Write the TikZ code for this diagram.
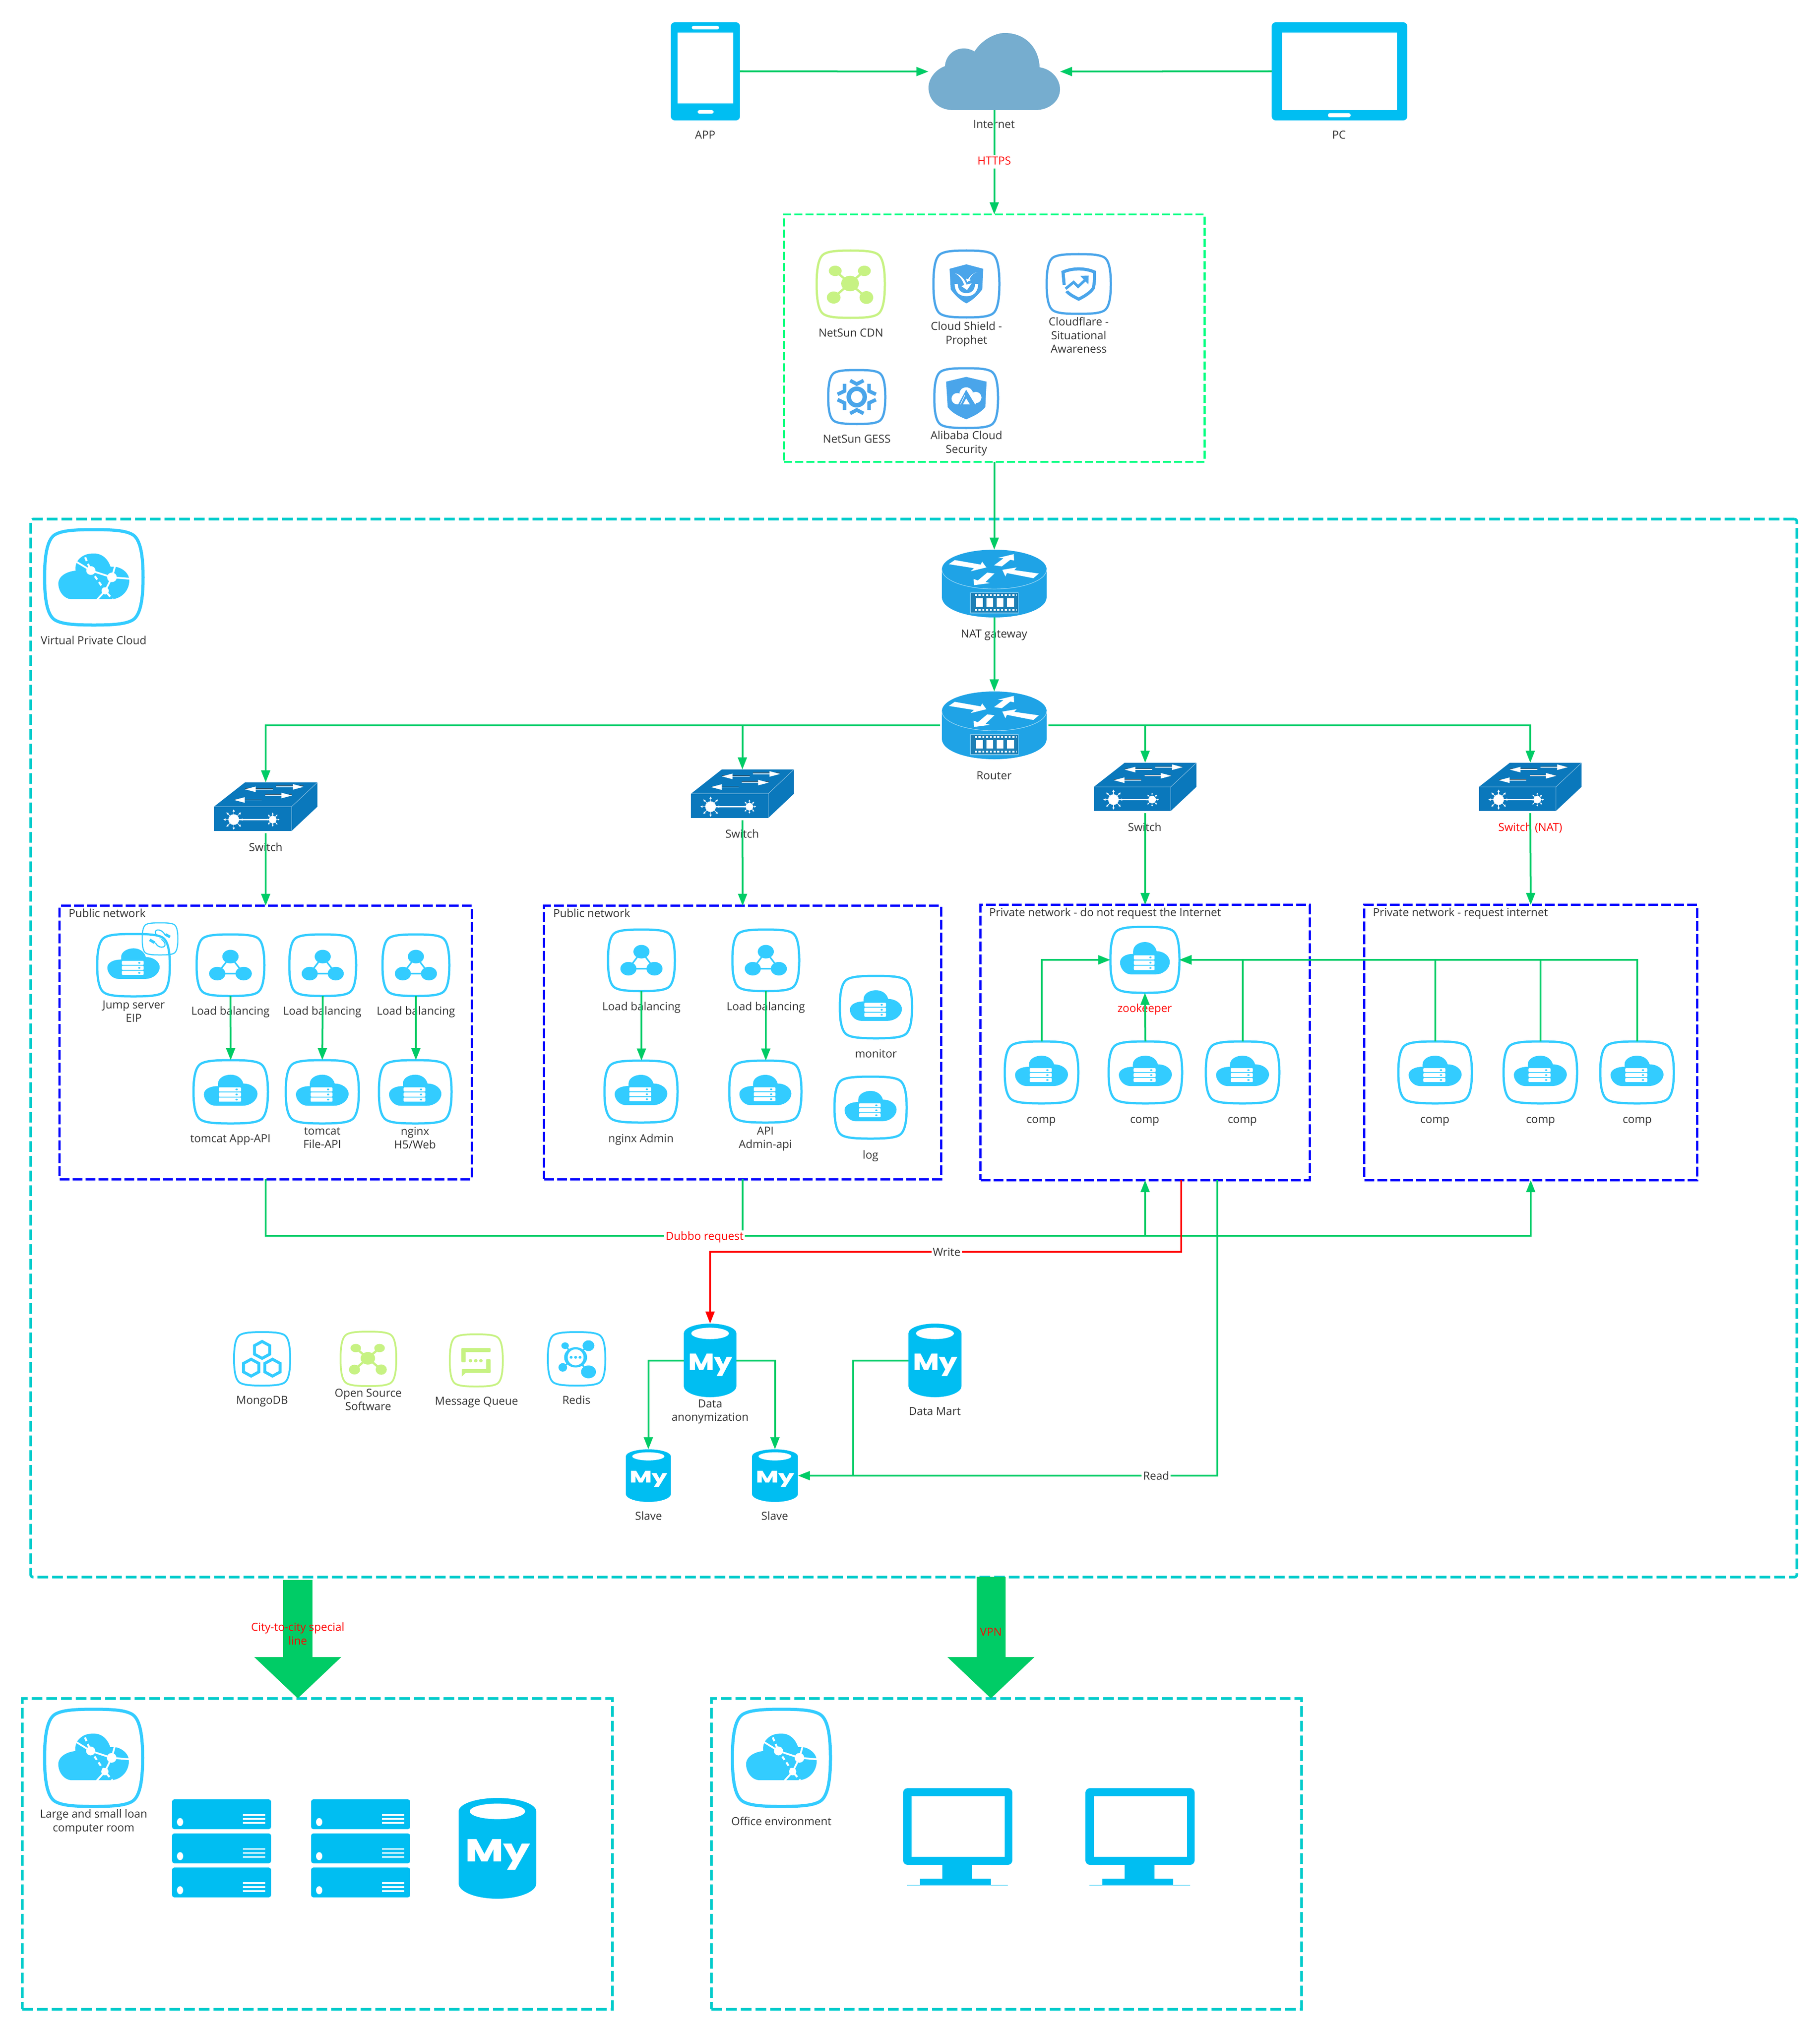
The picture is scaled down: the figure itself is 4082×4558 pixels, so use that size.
\documentclass[tikz,border=0pt]{standalone}
\usepackage{fontspec}
\setmainfont{Open Sans}
\newfontfamily\myfont[BoldFeatures={FakeBold=1.2}]{Poppins}
\usetikzlibrary{arrows.meta}
\definecolor{iconblue}{HTML}{33CCFF}
\definecolor{devblue}{HTML}{00BEF2}
\definecolor{arrowgreen}{HTML}{00CC66}
\definecolor{tealdash}{HTML}{00CCCC}
\definecolor{secgreen}{HTML}{00FF80}
\definecolor{leafgreen}{HTML}{C7F283}
\definecolor{shieldblue}{HTML}{4AA5EA}
\definecolor{routerblue}{HTML}{1FA3E6}
\definecolor{panelblue}{HTML}{1D7FB5}
\definecolor{switchblue}{HTML}{0A78BC}
\definecolor{skycloud}{HTML}{76ADCF}
\definecolor{labelgray}{HTML}{333333}
\tikzset{
  anchorbox/.style={rectangle,inner sep=0pt,outer sep=0pt},
  lbl/.style={inner sep=0pt,outer sep=0pt,align=center,text=labelgray,yshift=-0.03cm,font=\fontsize{7.1}{8.6}\selectfont,execute at begin node=\strut,execute at end node=\strut},
  redlbl/.style={lbl,text=red},
  edgelbl/.style={lbl,fill=white,inner xsep=0.03cm,inner ysep=0pt},
  conn/.style={draw=arrowgreen,line width=0.04cm,-{Triangle[length=0.27cm,width=0.2cm]}},
  plainconn/.style={draw=arrowgreen,line width=0.04cm},
  redconn/.style={draw=red,line width=0.04cm,-{Triangle[length=0.27cm,width=0.2cm]}},
  bigarrow/.style={draw=arrowgreen,line width=0.65cm,-{Triangle[length=0.93cm,width=1.9cm]}},
  tealbox/.style={anchorbox,draw=tealdash,line width=0.06cm,dash pattern=on 0.24cm off 0.09cm},
  bluebox/.style={anchorbox,draw=blue,line width=0.05cm,dash pattern=on 0.22cm off 0.07cm},
  secbox/.style={anchorbox,draw=secgreen,line width=0.045cm,dash pattern=on 0.18cm off 0.07cm},
}
\newcommand{\placebox}[5]{%
  \pgfmathsetmacro\cx{(#2+#4)/2}\pgfmathsetmacro\cy{(#3+#5)/2}%
  \pgfmathsetmacro\sx{(#4-#2)/100}\pgfmathsetmacro\sy{(#5-#3)/100}%
  \node[anchorbox,minimum width=\sx cm,minimum height=\sy cm] (#1) at (\cx,\cy) {};}
\newcommand{\region}[6]{%
  \pgfmathsetmacro\cx{(#3+#5)/2}\pgfmathsetmacro\cy{(#4+#6)/2}%
  \pgfmathsetmacro\sx{(#5-#3)/100}\pgfmathsetmacro\sy{(#6-#4)/100}%
  \node[#1,minimum width=\sx cm,minimum height=\sy cm] (#2) at (\cx,\cy) {};}
\def\iconlw{0.05cm}
\def\sqpath{(0,-50) .. controls (20,-50) and (32,-49) .. (39,-45) .. controls (46,-41) and (50,-28) .. (50,0) .. controls (50,28) and (46,41) .. (39,45) .. controls (32,49) and (20,50) .. (0,50) .. controls (-20,50) and (-32,49) .. (-39,45) .. controls (-46,41) and (-50,28) .. (-50,0) .. controls (-50,-28) and (-46,-41) .. (-39,-45) .. controls (-32,-49) and (-20,-50) .. (0,-50) -- cycle}
\newcommand{\icon}[7][iconblue]{%
  \placebox{#2}{#3}{#4}{#5}{#6}%
  \begin{scope}[shift={(\cx,\cy)},xscale=\sx,yscale=\sy]
    \colorlet{ic}{#1}%
    \draw[draw=ic,line width=\iconlw] \sqpath;
    #7
  \end{scope}}
\def\cloudpath{(-17,-13) .. controls (-17,-22) and (-8,-27) .. (0,-27) .. controls (8,-27) and (15,-22) .. (17,-13) .. controls (28,-13) and (36,-5) .. (36,3) .. controls (36,14) and (26,22) .. (16,22) -- (-20,22) .. controls (-30,22) and (-36,12) .. (-36,4) .. controls (-36,-4) and (-28,-9) .. (-17,-9) -- cycle}
\newcommand{\gsrv}{%
  \fill[ic] \cloudpath;
  \foreach \ya/\yb in {-6.9/-0.5,1/7.6,9/15.6}{
    \fill[white,rounded corners=0.02cm] (-16,\ya) rectangle (14,\yb);
    \fill[ic] (8,{(\ya+\yb)/2}) ellipse (1.6 and 1.4);
  }}
\newcommand{\glb}{%
  \draw[ic,line width=0.035cm] (0,-14) -- (-19.5,13.7) -- (19.5,13.7) -- cycle;
  \fill[ic] (0,-14) ellipse (12 and 11);
  \fill[ic] (-19.5,13.7) ellipse (12 and 11);
  \fill[ic] (19.5,13.7) ellipse (12 and 11);}
\newcommand{\gcross}{%
  \draw[ic,line width=0.05cm] (-22.7,-19.8) -- (23,19.8) (20,-19.8) -- (-25,19.8);
  \fill[ic] (-1,-1) ellipse (13 and 11.5);
  \fill[ic] (-22.7,-19.8) ellipse (9.5 and 7.7);
  \fill[ic] (20,-19.8) ellipse (9.5 and 7.7);
  \fill[ic] (-25,19.8) ellipse (10 and 9);
  \fill[ic] (23,19.8) ellipse (10 and 9.5);}
\newcommand{\gcshield}{%
  \fill[ic] (0,-29.4) -- (25.5,-22.7) -- (24,8) .. controls (18,16) and (10,24) .. (0,29) .. controls (-10,24) and (-18,16) .. (-23.8,8) -- (-25.5,-22.7) -- cycle;
  \draw[white,line width=0.07cm] (-15.5,0) .. controls (-15,13) and (-7,16) .. (0,16) .. controls (7,16) and (15,13) .. (15.5,0);
  \fill[white] (-17,-16) .. controls (-8,-14) and (-2,-6) .. (1,3) -- (-3,3) .. controls (-5,-5) and (-10,-12) .. (-17,-16) -- cycle;
  \fill[white] (-8,3) -- (8,-1) -- (1,9) -- cycle;
  \fill[white] (17,-18) .. controls (10,-16) and (6,-11) .. (4,-5) -- (2,-6) .. controls (5,-12) and (10,-16) .. (17,-18) -- cycle;
  \fill[white] (-0.5,-8) -- (7,-6) -- (1,-3) -- cycle;}
\newcommand{\gflare}{%
  \draw[ic,line width=0.07cm,line join=miter] (-22.7,1.5) -- (-24.5,-20) .. controls (-10,-27) and (10,-27) .. (24.5,-20) .. controls (24.5,-10) and (25,-4) .. (22.7,7) .. controls (18,15) and (8,21) .. (0,25.4) .. controls (-8,21) and (-14,18) .. (-19,12);
  \draw[white,line width=0.13cm] (-21,8) -- (-8,-3) -- (-1,4.4) -- (11.4,-8);
  \draw[ic,line width=0.06cm,line join=miter] (-20.5,8) -- (-8,-3) -- (-1,4.4) -- (11.4,-8);
  \fill[ic] (2.3,-13.6) -- (15.5,-14) -- (15,0.7) -- cycle;}
\newcommand{\ggear}{%
  \draw[ic,line width=0.1cm] (0,0) ellipse (14 and 15.3);
  \draw[ic,line width=0.08cm,line join=miter] (-11.5,-30.5) -- (0,-24) -- (12,-30.5);
  \draw[ic,line width=0.08cm,line join=miter] (-11.5,30.5) -- (0,24) -- (12,30.5);
  \foreach \hs/\vs in {1/1,-1/1,1/-1,-1/-1}{
    \draw[ic,line width=0.08cm,line join=miter] (21.5*\hs,-24.4*\vs) -- (21.5*\hs,-11*\vs) -- (33.6*\hs,-5*\vs);}}
\newcommand{\gali}{%
  \fill[ic] (0,-35.5) -- (32,-27.5) -- (30,15) .. controls (22,25) and (12,30) .. (0,35.5) .. controls (-12,30) and (-22,25) .. (-29,15) -- (-31.5,-27.5) -- cycle;
  \fill[white] (-14,1) ellipse (9 and 9.5);
  \fill[white] (0,-8) ellipse (10.5 and 10);
  \fill[white] (15,-1) ellipse (9 and 9.5);
  \fill[white] (-14,-2) rectangle (15,10.5);
  \fill[ic] (0,-14) -- (14,10.5) -- (-12.5,10.5) -- cycle;
  \fill[white] (-5,10.5) -- (0,0.5) -- (5.8,10.5) -- cycle;
  \draw[white,line width=0.012cm] (-2,-5) -- (-9,10.5);}
\newcommand{\gvpc}{%
  \fill[ic] (-18.5,-7) .. controls (-19,-12) and (-18,-15) .. (-16,-18) .. controls (-12,-23) and (-7,-25) .. (0,-25) .. controls (8,-25) and (14,-20) .. (17,-11) -- (22,-11) .. controls (29,-10) and (36,-4) .. (36,3) .. controls (36,15) and (27,23) .. (17,23) -- (-22,23) .. controls (-30,23) and (-36,15) .. (-36,6.5) .. controls (-36,-1) and (-28,-6) .. (-18.5,-7) -- cycle;
  \draw[white,line width=0.04cm] (-17.6,-16.2) -- (-3,-7.1) -- (18.4,0) -- (36.7,1.5);
  \draw[white,line width=0.04cm] (18.4,0) -- (21.5,-11.5);
  \draw[white,line width=0.04cm] (18.4,0) -- (11.5,14.2) -- (3.2,23.5);
  \draw[white,line width=0.045cm,dash pattern=on 0.09cm off 0.07cm] (-8.8,-21) -- (-3,-7.1) -- (11.5,14.2) -- (19,23);
  \fill[white] (-3,-7.1) ellipse (4.7 and 4.6);
  \fill[white] (18.4,0) ellipse (4.9 and 5);
  \fill[white] (11.5,14.2) ellipse (3.7 and 3.8);}
\newcommand{\gmongo}{%
  \foreach \hx/\hy in {0/-16.7,-19.5/16.5,18.5/16.5}{
    \draw[ic,line width=0.065cm,line join=miter,shift={(\hx,\hy)}] (0,-15.8) -- (13.6,-8) -- (13.6,8) -- (0,15.8) -- (-13.6,8) -- (-13.6,-8) -- cycle;}}
\newcommand{\gqueue}{%
  \fill[ic,rounded corners=0.02cm] (-28,-23.6) rectangle (27,-16);
  \fill[ic,rounded corners=0.02cm] (-28,-23.6) rectangle (-20,3.5);
  \fill[ic,rounded corners=0.02cm] (18.5,-2.3) rectangle (27,24);
  \fill[ic,rounded corners=0.02cm] (-27,16.6) rectangle (27,24);
  \fill[ic] (-27.5,17) -- (-20,24) -- (-27.5,31) -- cycle;
  \foreach \dx in {-11,-1,8.7}{\fill[ic] (\dx,0.6) ellipse (3.4 and 3.2);}}
\newcommand{\gredis}{%
  \draw[ic,line width=0.035cm] (-20,-24.6) -- (20.7,24.4) (20.7,-24.6) -- (-24,16);
  \fill[ic] (-1.7,-2.8) ellipse (20 and 19);
  \fill[ic] (-20,-24.6) ellipse (6.5 and 6.2);
  \fill[ic] (20.7,-24.6) ellipse (10.3 and 10);
  \fill[ic] (-24,16) ellipse (7.5 and 8);
  \fill[ic] (20.7,24.4) ellipse (13 and 12);
  \fill[white] (-1.7,-2.8) ellipse (13.8 and 15);
  \foreach \dx in {-9.5,-1.7,6}{\fill[ic] (\dx,-2.8) ellipse (2.6 and 2.6);}}
\newcommand{\geip}{%
  \draw[ic,line width=0.025cm] (14,-12) .. controls (6,-32) and (-16,-32) .. (-13,-18) .. controls (-11,-12) and (-5,-9) .. (-3,-7);
  \draw[ic,line width=0.025cm] (-13,12) .. controls (-6,30) and (17,30) .. (14,15) .. controls (12,8) and (8,6) .. (5,2);
  \draw[ic,line width=0.06cm] (15,-14) -- (28,-6);
  \draw[ic,line width=0.06cm] (-15,12) -- (-29,3);
  \fill[ic] (0,-2) ellipse (1.5 and 1.5);
  \fill[ic] (4,1) ellipse (1.5 and 1.5);}
\newcommand{\phonedev}[5]{%
  \placebox{#1}{#2}{#3}{#4}{#5}%
  \fill[devblue,rounded corners=0.09cm] (#1.south west) rectangle (#1.north east);}
\newcommand{\dbnode}[5]{%
  \placebox{#1}{#2}{#3}{#4}{#5}%
  \pgfmathsetmacro\myw{\sx*0.83}\pgfmathsetmacro\myh{\sy*0.30}%
  \begin{scope}[shift={(\cx,\cy)},xscale=\sx,yscale=\sy]
    \fill[devblue] (-50,-36.7) .. controls (-50,-44) and (-28,-50) .. (0,-50) .. controls (28,-50) and (50,-44) .. (50,-36.7) -- (50,35) .. controls (50,43) and (28,50) .. (0,50) .. controls (-28,50) and (-50,43) .. (-50,35) -- cycle;
    \fill[white] (0,-36.7) ellipse (35.7 and 7.75);
    \node[inner sep=0pt,text=white] (#1my) at (0,6) {\resizebox*{\myw cm}{\myh cm}{\myfont\bfseries My}};
  \end{scope}}
\newcommand{\router}[5]{%
  \placebox{#1}{#2}{#3}{#4}{#5}%
  \begin{scope}[shift={(\cx,\cy)},xscale=\sx,yscale=\sy]
    \fill[routerblue] (-50,-21) .. controls (-50,-37) and (-28,-50) .. (0,-50) .. controls (28,-50) and (50,-37) .. (50,-21) -- (50,20) .. controls (50,37) and (28,50) .. (0,50) .. controls (-28,50) and (-50,37) .. (-50,20) -- cycle;
    \draw[white!55!routerblue,line width=0.012cm] (-50,-21) .. controls (-50,-5) and (-28,8) .. (0,8) .. controls (28,8) and (50,-5) .. (50,-21);
    \fill[white] (-37.7,-34.7) -- (-12.9,-28) -- (-11.6,-32.3) -- (-7.5,-23.8) -- (-22.5,-18.1) -- (-19.4,-22.7) -- (-43.4,-28.6) -- cycle;
    \fill[white] (-.2,-26.9) -- (8.8,-37.3) -- (3.4,-37.8) -- (18.6,-43.4) -- (18.9,-34) -- (15.3,-35.1) -- (7.2,-25.3) -- cycle;
    \fill[white] (-6.7,-16.2) -- (0.2,-14.9) -- (-8.3,-2.4) -- (-4.2,-.7) -- (-19.4,2.4) -- (-19.7,-6.8) -- (-15.7,-4.6) -- cycle;
    \fill[white] (42.6,-14.8) -- (37.3,-7.9) -- (12.1,-15.5) -- (10.6,-10.5) -- (7.7,-20.3) -- (21.4,-23.8) -- (19.1,-19.9) -- cycle;
    \draw[fill=panelblue,draw=white!55!routerblue,line width=0.012cm] (-22.5,13.3) rectangle (23,43.4);
    \foreach \bxa/\bxb in {-17.3/-10.8,-7.5/-1,2.3/8.8,12/18.9}{\fill[white] (\bxa,21.6) rectangle (\bxb,34.3);}
    \draw[white,line width=0.04cm,dash pattern=on 0.046cm off 0.038cm] (-18.5,17) -- (21,17) (-18.5,39) -- (21,39);
  \end{scope}}
\newcommand{\switchdev}[5]{%
  \placebox{#1}{#2}{#3}{#4}{#5}%
  \begin{scope}[shift={(\cx,\cy)},xscale=\sx,yscale=\sy]
    \fill[switchblue] (-50,0) -- (-20,-50) -- (50,-50) -- (25,0) -- cycle;
    \fill[switchblue] (-50,0) rectangle (25,50);
    \fill[switchblue] (25,0) -- (50,-50) -- (50,0) -- (25,50) -- cycle;
    \draw[white!55!switchblue,line width=0.01cm] (-50,0) -- (25,0) -- (50,-50) (25,0) -- (25,50);
    \foreach \xa/\xb/\yy in {7/-20/-35.8,10/36.7/-40.8,-3.8/-30.6/-13.8,-0.5/25.6/-23}{
      \draw[black!70,line width=0.008cm] (\xa,\yy-2) -- (\xb,\yy-2);
      \draw[white,line width=0.018cm,-{Triangle[length=0.24cm,width=0.12cm]}] (\xa,\yy) -- (\xb,\yy);}
    \draw[white,line width=0.025cm] (-30.9,26.5) -- (6.8,26.5);
    \fill[white] (-30.9,26.5) ellipse (5.2 and 11);
    \fill[white] (6.8,26.5) ellipse (3.7 and 7.8);
    \foreach \a in {0,45,...,315}{
      \draw[white,line width=0.012cm,-{Triangle[length=0.05cm,width=0.05cm]}] (-30.9,26.5) -- +({cos(\a)*10},{sin(\a)*21});
      \draw[white,line width=0.012cm,-{Triangle[length=0.04cm,width=0.04cm]}] (6.8,26.5) -- +({cos(\a)*6.6},{sin(\a)*14.5});}
  \end{scope}}
\newcommand{\serverstack}[3]{%
  \pgfmathsetmacro\xb{#2+222}\pgfmathsetmacro\yb{#3+220}%
  \placebox{#1}{#2}{#3}{\xb}{\yb}%
  \foreach \dy in {0,76.5,153}{
    \begin{scope}[shift={(#2,#3+\dy)}]
      \fill[devblue,rounded corners=0.05cm] (0,0) rectangle (222,67);
      \fill[white] (18,51) ellipse (7 and 9);
      \foreach \ly in {35,44,53}{\draw[white,line width=0.035cm] (159,\ly) -- (209,\ly);}
    \end{scope}}}
\newcommand{\monitor}[2]{%
  \pgfmathsetmacro\xb{#2+245}%
  \placebox{#1}{#2}{4011}{\xb}{4228}%
  \begin{scope}[shift={(#2,4011)}]
    \fill[devblue] (88,170) rectangle (155,204);
    \fill[devblue] (38,203) rectangle (197,217);
    \fill[devblue,rounded corners=0.1cm] (0,0) rectangle (245,172);
    \fill[white] (19,18) rectangle (228,154);
    \fill[white] (38,203) .. controls (70,203) and (88,200) .. (88,172) -- (38,172) -- cycle;
    \fill[white] (197,203) .. controls (170,203) and (155,200) .. (155,172) -- (197,172) -- cycle;
    \draw[devblue!45,line width=0.015cm] (9,218) -- (235,218);
  \end{scope}}
\begin{document}
\begin{tikzpicture}[x=0.01cm,y=-0.01cm]
\useasboundingbox (0,0) rectangle (4082,4558);
\fill[white] (0,0) rectangle (4082,4558);
% regions
\region{secbox}{secz}{1759}{481}{2702}{1036}
\region{tealbox,rounded corners=0.06cm}{vpc}{70}{1165}{4030}{3537}
\region{bluebox}{pubA}{134}{2032}{1058}{2645}
\region{bluebox}{pubB}{1221}{2032}{2111}{2645}
\region{bluebox}{privA}{2200}{2030}{2938}{2647}
\region{bluebox}{privB}{3061}{2030}{3807}{2647}
\region{tealbox}{idc}{50}{3810}{1374}{4507}
\region{tealbox}{office}{1596}{3810}{2920}{4507}
% labels
\node[lbl] (tApp) at (1582,302) {APP};
\node[lbl] (tNet) at (2230,278) {Internet};
\node[lbl] (tPc) at (3004,302) {PC};
\node[lbl] (tCdn) at (1909,746) {NetSun CDN};
\node[lbl] (tShield) at (2168,748) {Cloud Shield -\\Prophet};
\node[lbl] (tFlare) at (2420,753) {Cloudflare -\\Situational\\Awareness};
\node[lbl] (tGess) at (1922,984) {NetSun GESS};
\node[lbl] (tAli) at (2168,993) {Alibaba Cloud\\Security};
\node[lbl] (tVpc) at (210,1436) {Virtual Private Cloud};
\node[lbl] (tNat) at (2230,1421) {NAT gateway};
\node[lbl] (tRouter) at (2230,1739) {Router};
\node[lbl] (tSwA) at (596,1900) {Switch};
\node[lbl] (tSwB) at (1665,1870) {Switch};
\node[lbl] (tSwC) at (2568,1855) {Switch};
\node[redlbl] (tSwD) at (3433,1855) {Switch (NAT)};
\node[lbl,anchor=west] (tPubA) at (154,2048) {Public network};
\node[lbl,anchor=west] (tPubB) at (1241,2048) {Public network};
\node[lbl,anchor=west] (tPrivA) at (2219,2046) {Private network - do not request the Internet};
\node[lbl,anchor=west] (tPrivB) at (3080,2046) {Private network - request internet};
\node[lbl] (tJump) at (300,2270) {Jump server\\EIP};
\node[lbl] (tLbA) at (517,2267) {Load balancing};
\node[lbl] (tLbB) at (723,2267) {Load balancing};
\node[lbl] (tLbC) at (933,2267) {Load balancing};
\node[lbl] (tTcA) at (517,2553) {tomcat App-API};
\node[lbl] (tTcB) at (723,2554) {tomcat\\File-API};
\node[lbl] (tNgx) at (931,2554) {nginx\\H5/Web};
\node[lbl] (tLbD) at (1439,2257) {Load balancing};
\node[lbl] (tLbE) at (1718,2257) {Load balancing};
\node[lbl] (tNgA) at (1438,2553) {nginx Admin};
\node[lbl] (tApi) at (1717,2553) {API\\Admin-api};
\node[lbl] (tMon) at (1965,2363) {monitor};
\node[lbl] (tLog) at (1953,2590) {log};
\node[redlbl] (tZk) at (2568,2261) {zookeeper};
\node[lbl] (tCa) at (2336,2510) {comp};
\node[lbl] (tCb) at (2568,2510) {comp};
\node[lbl] (tCc) at (2787,2510) {comp};
\node[lbl] (tCd) at (3219,2510) {comp};
\node[lbl] (tCe) at (3456,2510) {comp};
\node[lbl] (tCf) at (3673,2510) {comp};
\node[lbl] (tMongo) at (588,3140) {MongoDB};
\node[lbl] (tOss) at (826,3141) {Open Source\\Software};
\node[lbl] (tMq) at (1069,3142) {Message Queue};
\node[lbl] (tRedis) at (1293,3140) {Redis};
\node[lbl] (tAnon) at (1593,3165) {Data\\anonymization};
\node[lbl] (tMart) at (2097,3165) {Data Mart};
\node[lbl] (tSa) at (1455,3400) {Slave};
\node[lbl] (tSb) at (1738,3400) {Slave};
\node[lbl] (tIdc) at (210,4085) {Large and small loan\\computer room};
\node[lbl] (tOff) at (1753,4085) {Office environment};
% devices
\phonedev{phone}{1505}{50}{1660}{270}
\fill[white] (1520,73) rectangle (1645,232);
\fill[white,rounded corners=0.04cm] (1552,58) rectangle (1613,66);
\fill[white,rounded corners=0.04cm] (1565,247) rectangle (1601,255);
\phonedev{pc}{2853}{50}{3157}{270}
\fill[white] (2876,73) rectangle (3134,247);
\fill[white,rounded corners=0.04cm] (2979,254) rectangle (3030,263);
\placebox{cloud}{2083}{74}{2378}{247}
\begin{scope}[shift={(\cx,\cy)},xscale=\sx,yscale=\sy]
  \fill[skycloud] (-31,50) .. controls (-43,50) and (-50,36) .. (-50,21) .. controls (-50,8) and (-44,-3) .. (-37.5,-7) .. controls (-37,-20) and (-31,-30) .. (-23,-30) .. controls (-20,-30) and (-17,-28) .. (-15,-26) .. controls (-10,-40) and (0,-50) .. (8,-50) .. controls (24,-50) and (34,-30) .. (34.5,-5.5) .. controls (44,-3) and (50,10) .. (50,23) .. controls (50,38) and (42,50) .. (31,50) -- cycle;
\end{scope}
% security icons
\icon[leafgreen]{cdn}{1832}{562}{1985}{713}{\gcross}
\icon[shieldblue]{shield}{2094}{562}{2242}{712}{\gcshield}
\icon[shieldblue]{flare}{2348}{570}{2492}{704}{\gflare}
\icon[shieldblue]{gess}{1858}{830}{1986}{951}{\ggear}
\icon[shieldblue]{alibaba}{2096}{826}{2239}{960}{\gali}
% network devices
\router{nat}{2113}{1233}{2348}{1385}
\router{rt}{2113}{1551}{2348}{1703}
\switchdev{swA}{480}{1755}{712}{1864}
\switchdev{swB}{1550}{1726}{1781}{1835}
\switchdev{swC}{2454}{1711}{2684}{1819}
\switchdev{swD}{3318}{1711}{3548}{1819}
% vpc icons
\def\iconlw{0.07cm}
\icon{vpcicon}{100}{1188}{321}{1402}{\gvpc}
\icon{idcicon}{100}{3834}{320}{4052}{\gvpc}
\icon{officon}{1643}{3834}{1863}{4052}{\gvpc}
\def\iconlw{0.05cm}
\icon{jump}{218}{2095}{381}{2235}{\gsrv}
\begingroup\def\iconlw{0.025cm}
\icon{eip}{319}{2070}{399}{2142}{\geip}
\endgroup
\icon{lbA}{441}{2096}{593}{2234}{\glb}
\icon{lbB}{649}{2096}{799}{2234}{\glb}
\icon{lbC}{858}{2096}{1008}{2234}{\glb}
\icon{tcA}{434}{2378}{601}{2520}{\gsrv}
\icon{tcB}{641}{2378}{805}{2520}{\gsrv}
\icon{ngx}{850}{2378}{1013}{2520}{\gsrv}
\icon{lbD}{1364}{2085}{1514}{2223}{\glb}
\icon{lbE}{1643}{2085}{1793}{2223}{\glb}
\icon{ngA}{1356}{2379}{1520}{2518}{\gsrv}
\icon{api}{1636}{2379}{1798}{2518}{\gsrv}
\icon{mon}{1884}{2189}{2046}{2329}{\gsrv}
\icon{logs}{1872}{2415}{2034}{2554}{\gsrv}
\icon{zk}{2491}{2079}{2646}{2227}{\gsrv}
\icon{cA}{2254}{2336}{2419}{2475}{\gsrv}
\icon{cB}{2487}{2336}{2652}{2475}{\gsrv}
\icon{cC}{2705}{2336}{2870}{2475}{\gsrv}
\icon{cD}{3137}{2336}{3302}{2475}{\gsrv}
\icon{cE}{3373}{2336}{3538}{2475}{\gsrv}
\icon{cF}{3590}{2336}{3755}{2475}{\gsrv}
% middleware
\begingroup\def\iconlw{0.04cm}
\icon{mongo}{525}{2988}{651}{3108}{\gmongo}
\icon[leafgreen]{oss}{764}{2987}{889}{3109}{\gcross}
\icon[leafgreen]{mq}{1009}{2993}{1128}{3110}{\gqueue}
\icon{redis}{1229}{2988}{1358}{3108}{\gredis}
\endgroup
\dbnode{dbA}{1534}{2969}{1652}{3134}
\dbnode{dbM}{2038}{2969}{2157}{3134}
\dbnode{slA}{1404}{3251}{1505}{3369}
\dbnode{slB}{1687}{3251}{1790}{3369}
% bottom equipment
\serverstack{srvA}{386}{4036}
\serverstack{srvB}{698}{4036}
\dbnode{dbB}{1029}{4033}{1203}{4259}
\monitor{monA}{2026}
\monitor{monB}{2435}
% free connector ends
\coordinate (busY) at (0,2772);
\coordinate (wrY) at (0,2808);
\coordinate (wrS) at ([xshift=0.81cm]privA.south);
\coordinate (rdS) at ([xshift=1.62cm]privA.south);
\coordinate (rdJ) at (1914,3310);
\coordinate (bigA) at (668,3544);
\coordinate (bigB) at (2223,3537);
% connectors
\draw[conn] (phone.east) -- (cloud.west);
\draw[conn] (pc.west) -- (cloud.east);
\draw[conn] (cloud.south) -- node[pos=0.483,edgelbl,text=red] {HTTPS} (secz.north);
\draw[conn] (secz.south) -- (nat.north);
\draw[conn] (nat.south) -- (rt.north);
\draw[conn,shorten <=0.04cm] (rt.west) -| (swA.north);
\draw[conn,shorten <=0.04cm] (rt.west) -| (swB.north);
\draw[conn,shorten <=0.04cm] (rt.east) -| (swC.north);
\draw[conn,shorten <=0.04cm] (rt.east) -| (swD.north);
\draw[conn,shorten <=0.05cm] (swA.south) -- (pubA.north);
\draw[conn,shorten <=0.05cm] (swB.south) -- (pubB.north);
\draw[conn,shorten <=0.05cm] (swC.south) -- (privA.north);
\draw[conn,shorten <=0.05cm] (swD.south) -- (privB.north);
\draw[conn] (lbA.south) -- (tcA.north);
\draw[conn] (lbB.south) -- (tcB.north);
\draw[conn] (lbC.south) -- (tcB.north -| lbC.south);
\draw[conn] (lbD.south) -- (ngA.north -| lbD.south);
\draw[conn] (lbE.south) -- (api.north -| lbE.south);
\draw[conn] (cA.north) |- (zk.west);
\draw[conn] (cB.north) -- (zk.south);
\draw[conn] (cC.north) |- (zk.east);
\draw[conn] (cD.north) |- (zk.east);
\draw[conn] (cE.north) |- (zk.east);
\draw[conn] (cF.north) |- (zk.east);
\draw[plainconn] (pubB.south) -- (pubB.south |- busY);
\draw[conn] (privA.south |- busY) -- (privA.south);
\draw[conn] (pubA.south) -- (pubA.south |- busY) -- node[pos=0.347,edgelbl,text=red] {Dubbo request} (privB.south |- busY) -- (privB.south);
\draw[redconn] (wrS) -- (wrS |- wrY) -- node[pos=0.498,edgelbl] {Write} (dbA.north |- wrY) -- (dbA.north);
\draw[conn] (rdS) -- (rdS |- slB.east) -- node[pos=0.146,edgelbl] {Read} (slB.east);
\draw[plainconn] (dbM.west) -| (rdJ);
\draw[conn] (dbA.west) -| (slA.north);
\draw[conn] (dbA.east) -| (slB.north);
\draw[bigarrow] (bigA) -- (bigA |- idc.north);
\draw[bigarrow] (bigB) -- (bigB |- office.north);
\node[redlbl] (tCity) at (668,3666) {City-to-city special\\line};
\node[redlbl] (tVpn) at (2223,3660) {VPN};
\end{tikzpicture}
\end{document}
